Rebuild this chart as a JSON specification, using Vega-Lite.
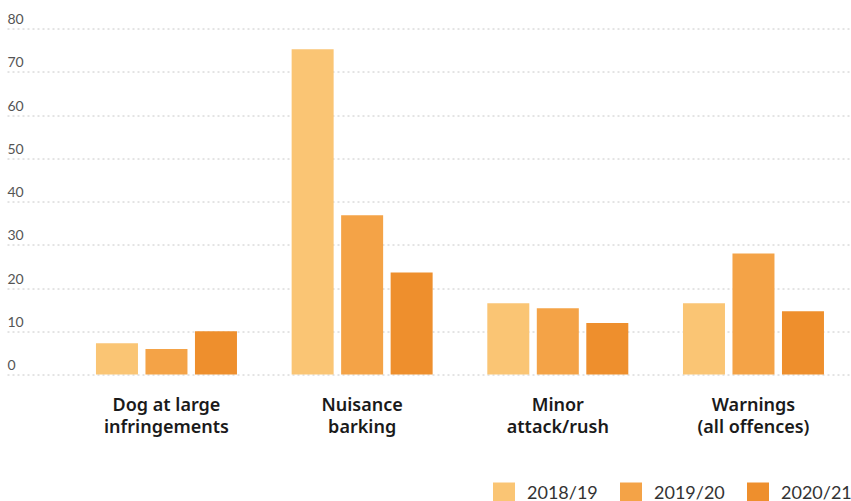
{
  "$schema": "https://vega.github.io/schema/vega-lite/v6.json",
  "width": 844,
  "height": 346,
  "autosize": "none",
  "padding": {"left": 7, "top": 28.5, "right": 0, "bottom": 126.5},
  "background": "white",
  "config": {"view": {"stroke": null}, "font": "Lato"},
  "data": {
    "values": [
      {"category": "Dog at large infringements", "year": "2018/19", "value": 7.2},
      {"category": "Dog at large infringements", "year": "2019/20", "value": 5.9},
      {"category": "Dog at large infringements", "year": "2020/21", "value": 10},
      {"category": "Nuisance barking", "year": "2018/19", "value": 75.2},
      {"category": "Nuisance barking", "year": "2019/20", "value": 36.8},
      {"category": "Nuisance barking", "year": "2020/21", "value": 23.6},
      {"category": "Minor attack/rush", "year": "2018/19", "value": 16.5},
      {"category": "Minor attack/rush", "year": "2019/20", "value": 15.3},
      {"category": "Minor attack/rush", "year": "2020/21", "value": 11.9},
      {"category": "Warnings (all offences)", "year": "2018/19", "value": 16.5},
      {"category": "Warnings (all offences)", "year": "2019/20", "value": 28.0},
      {"category": "Warnings (all offences)", "year": "2020/21", "value": 14.6}
    ]
  },
  "mark": {"type": "bar"},
  "encoding": {
    "x": {
      "field": "category",
      "type": "nominal",
      "sort": null,
      "scale": {"paddingInner": 0.2794, "paddingOuter": 0.2964, "align": 0.767},
      "axis": {
        "title": null,
        "domain": false,
        "ticks": false,
        "tickSize": 0,
        "labelAngle": 0,
        "labelPadding": 22,
        "labelFont": "Noto Sans",
        "labelFontSize": 18,
        "labelFontWeight": 600,
        "labelColor": "#1a1a1a",
        "labelLineHeight": 22,
        "labelBaseline": "top",
        "labelExpr": "datum.value == 'Dog at large infringements' ? ['Dog at large', 'infringements'] : datum.value == 'Nuisance barking' ? ['Nuisance', 'barking'] : datum.value == 'Minor attack/rush' ? ['Minor', 'attack/rush'] : ['Warnings', '(all offences)']"
      }
    },
    "xOffset": {
      "field": "year",
      "type": "nominal",
      "scale": {"paddingInner": 0.1515, "paddingOuter": 0}
    },
    "y": {
      "field": "value",
      "type": "quantitative",
      "scale": {"domain": [0, 80], "nice": false},
      "axis": {
        "title": null,
        "values": [0, 10, 20, 30, 40, 50, 60, 70, 80],
        "domain": false,
        "ticks": false,
        "tickSize": 0,
        "grid": true,
        "gridColor": "#c8c8c8",
        "gridDash": [2, 3],
        "gridWidth": 1,
        "labelAlign": "left",
        "labelBaseline": "alphabetic",
        "labelPadding": 0,
        "labelOffset": -5,
        "labelFontSize": 14,
        "labelColor": "#555555"
      }
    },
    "color": {
      "field": "year",
      "type": "nominal",
      "scale": {"domain": ["2018/19", "2019/20", "2020/21"], "range": ["#FAC574", "#F4A347", "#EE8F2D"]},
      "legend": {
        "title": null,
        "orient": "none",
        "direction": "horizontal",
        "legendX": 486,
        "legendY": 454,
        "symbolType": "square",
        "symbolSize": 484,
        "symbolStrokeWidth": 0,
        "symbolOpacity": 1,
        "labelFontSize": 18,
        "labelColor": "#333333",
        "labelOffset": 12,
        "columnPadding": 22
      }
    }
  }
}
